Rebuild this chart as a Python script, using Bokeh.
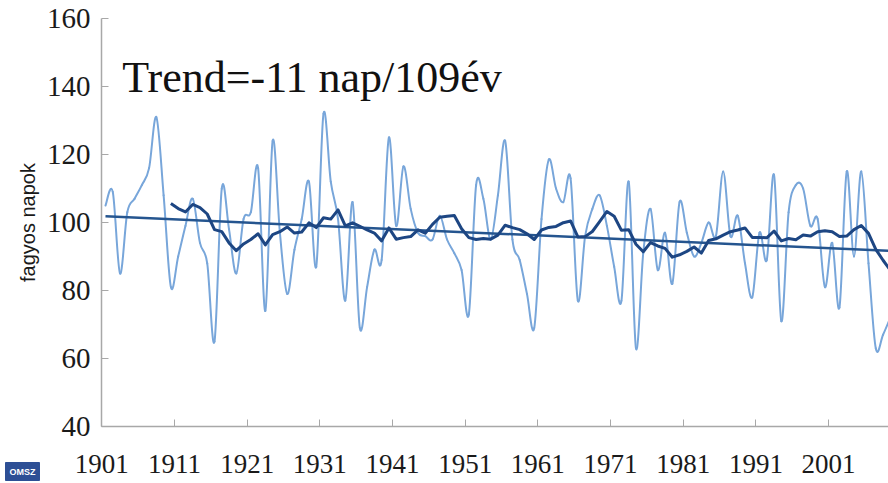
import numpy as np
from bokeh.plotting import figure
from bokeh.models import FixedTicker, Label
from bokeh.embed import file_html
from bokeh.resources import INLINE

# ---- data ----
years = list(range(1901, 2010))
frost_days = [
    105, 109, 85, 103, 107, 111, 116, 131, 108, 81,      # 1901-1910
    90, 99, 107, 94, 88, 65, 110, 98, 85, 101,           # 1911-1920
    103, 116, 74, 124, 97, 79, 92, 101, 112, 87,         # 1921-1930
    132, 112, 101, 77, 106, 69, 81, 92, 89, 125,         # 1931-1940
    99, 116.5, 104, 97, 96, 95, 102, 95, 91, 86,         # 1941-1950
    73, 111, 107, 95, 108, 124, 95, 89, 79, 69,          # 1951-1960
    101, 118.5, 110, 106, 113, 77, 96, 104, 108, 99,     # 1961-1970
    87, 77, 112, 63, 91, 104, 86, 97, 82, 106,           # 1971-1980
    97, 90, 94, 100, 96, 115, 96, 102, 88, 78,           # 1981-1990
    97, 89, 114, 71, 103, 111, 110, 99, 101, 81,         # 1991-2000
    94, 75, 115, 90, 115, 88, 63, 67, 72,                # 2001-2009
]
ma_window = 10
tick_years = [1901, 1911, 1921, 1931, 1941, 1951, 1961, 1971, 1981, 1991, 2001]
y_ticks = [40, 60, 80, 100, 120, 140, 160]
title_text = "Trend=-11 nap/109év"
y_label = "fagyos napok"
logo_text = "OMSZ"

LIGHT = "#78a6da"
DARK = "#1d4683"
TREND = "#25558f"
AXIS = "#a8a8a8"

x = np.array(years, dtype=float)
y = np.array(frost_days, dtype=float)

p = figure(width=888, height=483, x_range=(1900.45, 2008.75), y_range=(40, 160),
           output_backend="svg", toolbar_location=None,
           min_border_left=101, min_border_right=0, min_border_top=18, min_border_bottom=57,
           background_fill_color="white", border_fill_color="white")
p.outline_line_color = None
p.xgrid.visible = False
p.ygrid.visible = False

# smoothed annual line (Excel-like smooth: cubic Bezier through the points)
n = len(x)
x0s, y0s, x1s, y1s, cx0s, cy0s, cx1s, cy1s = [], [], [], [], [], [], [], []
for i in range(n - 1):
    a = max(i - 1, 0)
    d = min(i + 2, n - 1)
    x0s.append(x[i]); y0s.append(y[i]); x1s.append(x[i + 1]); y1s.append(y[i + 1])
    cx0s.append(x[i] + (x[i + 1] - x[a]) / 6.0)
    cy0s.append(y[i] + (y[i + 1] - y[a]) / 6.0)
    cx1s.append(x[i + 1] - (x[d] - x[i]) / 6.0)
    cy1s.append(y[i + 1] - (y[d] - y[i]) / 6.0)
p.bezier(x0=x0s, y0=y0s, x1=x1s, y1=y1s, cx0=cx0s, cy0=cy0s, cx1=cx1s, cy1=cy1s,
         line_color=LIGHT, line_width=2, line_cap="round")

# linear trend
coef = np.polyfit(x, y, 1)
tx = np.array([x[0], x[-1]])
p.line(tx, np.polyval(coef, tx), line_color=TREND, line_width=2.5)

# 10-year moving average
ma = [float(np.mean(y[i - ma_window + 1:i + 1])) for i in range(ma_window - 1, n)]
p.line(x[ma_window - 1:], ma, line_color=DARK, line_width=3, line_join="round")

# axes
xa = p.xaxis[0]
xa.ticker = FixedTicker(ticks=[t - 0.5 for t in tick_years])
xa.major_label_overrides = {t - 0.5: str(t) for t in tick_years}
xa.minor_tick_line_color = None
xa.major_tick_in = 7
xa.major_tick_out = 0
xa.axis_line_color = AXIS
xa.axis_line_width = 1.5
xa.major_tick_line_color = AXIS
xa.major_label_text_font = "Liberation Serif"
xa.major_label_text_font_size = "27px"
xa.major_label_text_color = "#1a1a1a"
xa.major_label_standoff = 28

ya = p.yaxis[0]
ya.ticker = FixedTicker(ticks=y_ticks)
ya.minor_tick_line_color = None
ya.major_tick_in = 7
ya.major_tick_out = 0
ya.axis_line_color = AXIS
ya.axis_line_width = 1.5
ya.major_tick_line_color = AXIS
ya.major_label_text_font = "Liberation Serif"
ya.major_label_text_font_size = "29px"
ya.major_label_text_color = "#1a1a1a"
ya.major_label_standoff = 11
ya.axis_label = y_label
ya.axis_label_text_font = "Liberation Sans"
ya.axis_label_text_font_size = "20px"
ya.axis_label_text_font_style = "normal"
ya.axis_label_text_color = "#1a1a1a"
ya.axis_label_standoff = 5

p.add_layout(Label(x=1903.3, y=142.6, text=title_text, text_font="Liberation Serif",
                   text_font_size="44px", text_color="#111111", text_baseline="alphabetic"))

# small OMSZ logo box, bottom-left corner (hosted in the spare top border panel)
p.add_layout(Label(x=-96, y=-462, x_units="screen", y_units="screen", text=logo_text,
                   text_font="Liberation Sans", text_font_size="9px", text_font_style="bold",
                   text_color="white", text_baseline="bottom",
                   background_fill_color="#2d4f95", background_fill_alpha=1.0,
                   border_line_color="#2d4f95", padding=4), "above")

open("out.html", "w").write(file_html(p, INLINE))
